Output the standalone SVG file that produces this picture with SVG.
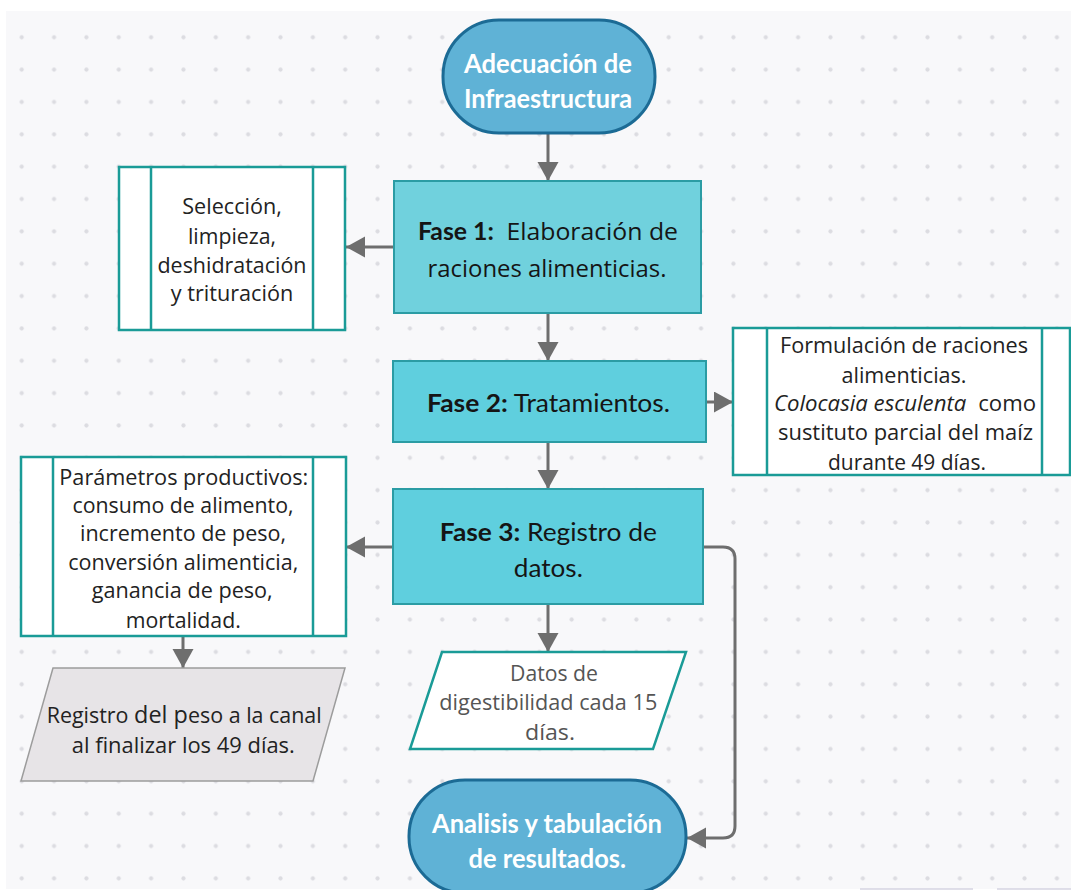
<svg xmlns="http://www.w3.org/2000/svg" width="1071" height="890" viewBox="0 0 1071 890">
<defs>
<pattern id="dots" patternUnits="userSpaceOnUse" x="5.525" y="21.125" width="32.35" height="32.35">
<circle cx="16.175" cy="16.175" r="2.1" fill="#dcdce1"/>
</pattern>
<marker id="ah" markerUnits="userSpaceOnUse" markerWidth="20" markerHeight="22" refX="19" refY="10.5" orient="auto">
<path d="M0,0 L19,10.5 L0,21 z" fill="#6e6e6e"/>
</marker>
<style>
.term{fill:#5fb2d6;stroke:#1c6b95;stroke-width:3}
.tt{font-family:Lato,"Liberation Sans",sans-serif;font-weight:700;font-size:27px;fill:#ffffff;text-anchor:middle}
.phase{stroke:#2b9ca4;stroke-width:2}
.pt{font-family:Lato,"Liberation Sans",sans-serif;font-size:24.5px;fill:#151515;text-anchor:middle}
.b{font-weight:700}
.os{font-family:"Open Sans","Noto Sans",sans-serif}
.box{fill:#ffffff;stroke:#1a9b97;stroke-width:2.5}
.inner{stroke:#1a9b97;stroke-width:2.5;fill:none}
.bt{font-family:"Open Sans","Noto Sans",sans-serif;font-size:21.5px;fill:#222;text-anchor:middle}
.gt{font-family:"Open Sans","Noto Sans",sans-serif;font-size:21.5px;fill:#555;text-anchor:middle}
.conn{fill:none;stroke:#6e6e6e;stroke-width:3;marker-end:url(#ah)}
</style>
</defs>
<rect x="0" y="0" width="1071" height="890" fill="#ffffff"/>
<rect x="6" y="11" width="1065" height="878" fill="#f8f8fa"/>
<rect x="6" y="11" width="1065" height="878" fill="url(#dots)"/>
<line x1="860" y1="889" x2="973" y2="889" stroke="#d6d4e2" stroke-width="1.5"/>
<line x1="997" y1="889" x2="1071" y2="889" stroke="#d6d4e2" stroke-width="1.5"/>

<g id="connectors">
<path class="conn" d="M548,133 V181"/>
<path class="conn" d="M394,247 H346"/>
<path class="conn" d="M548,313 V361"/>
<path class="conn" d="M706,402 H733"/>
<path class="conn" d="M548,442 V489"/>
<path class="conn" d="M393,547 H346"/>
<path class="conn" d="M548,604 V652"/>
<path class="conn" d="M183,636 V668"/>
<path class="conn" d="M703,547 H723 Q735,547 735,559 V826 Q735,838 723,838 H687"/>
</g>

<g id="start">
<rect class="term" x="443" y="20" width="212" height="113" rx="56" ry="56"/>
<text class="tt" x="548" y="72.5" textLength="168" lengthAdjust="spacingAndGlyphs">Adecuación de</text>
<text class="tt" x="548" y="107.5" textLength="168" lengthAdjust="spacingAndGlyphs">Infraestructura</text>
</g>

<g id="fase1">
<rect class="phase" x="394" y="181" width="307" height="132" fill="#70d1dd"/>
<text class="pt" x="548" y="239.5" textLength="260" lengthAdjust="spacingAndGlyphs"><tspan class="b">Fase 1:</tspan><tspan class="os" dx="6"> Elaboración de</tspan></text>
<text class="pt os" x="547" y="276.5" textLength="239" lengthAdjust="spacingAndGlyphs">raciones alimenticias.</text>
</g>

<g id="seleccion">
<rect class="box" x="119" y="167" width="226" height="163"/>
<line class="inner" x1="151" y1="167" x2="151" y2="330"/>
<line class="inner" x1="313" y1="167" x2="313" y2="330"/>
<text class="bt" x="232" y="213.5" textLength="99.5" lengthAdjust="spacingAndGlyphs">Selección,</text>
<text class="bt" x="232" y="243.5" textLength="88" lengthAdjust="spacingAndGlyphs">limpieza,</text>
<text class="bt" x="232" y="272.5" textLength="149" lengthAdjust="spacingAndGlyphs">deshidratación</text>
<text class="bt" x="232" y="300.5" textLength="122.5" lengthAdjust="spacingAndGlyphs">y trituración</text>
</g>

<g id="fase2">
<rect class="phase" x="393" y="361" width="313" height="81" fill="#5fcfde"/>
<text class="pt" x="548.5" y="411.5" textLength="243" lengthAdjust="spacingAndGlyphs"><tspan class="b">Fase 2:</tspan> Tratamientos.</text>
</g>

<g id="formulacion">
<rect class="box" x="733" y="328" width="337" height="147"/>
<line class="inner" x1="767" y1="328" x2="767" y2="475"/>
<line class="inner" x1="1042" y1="328" x2="1042" y2="475"/>
<text class="bt" x="904" y="352.5" textLength="248" lengthAdjust="spacingAndGlyphs">Formulación de raciones</text>
<text class="bt" x="904" y="382.5" textLength="125" lengthAdjust="spacingAndGlyphs">alimenticias.</text>
<text class="bt" x="905" y="410.5" textLength="262" lengthAdjust="spacingAndGlyphs"><tspan font-style="italic">Colocasia esculenta</tspan><tspan dx="6"> como</tspan></text>
<text class="bt" x="905.5" y="439.5" textLength="255" lengthAdjust="spacingAndGlyphs">sustituto parcial del maíz</text>
<text class="bt" x="907" y="469.5" textLength="158" lengthAdjust="spacingAndGlyphs">durante 49 días.</text>
</g>

<g id="fase3">
<rect class="phase" x="393" y="489" width="310" height="115" fill="#5fcfde"/>
<text class="pt" x="548.3" y="540.5" textLength="217" lengthAdjust="spacingAndGlyphs"><tspan class="b">Fase 3:</tspan> Registro de</text>
<text class="pt" x="548.3" y="576.5" textLength="69" lengthAdjust="spacingAndGlyphs">datos.</text>
</g>

<g id="parametros">
<rect class="box" x="21" y="457" width="325" height="179"/>
<line class="inner" x1="53" y1="457" x2="53" y2="636"/>
<line class="inner" x1="313" y1="457" x2="313" y2="636"/>
<text class="bt" x="183.8" y="484.5" textLength="249" lengthAdjust="spacingAndGlyphs">Parámetros productivos:</text>
<text class="bt" x="183" y="512.5" textLength="221" lengthAdjust="spacingAndGlyphs">consumo de alimento,</text>
<text class="bt" x="183" y="540.5" textLength="206" lengthAdjust="spacingAndGlyphs">incremento de peso,</text>
<text class="bt" x="183.3" y="569.5" textLength="230" lengthAdjust="spacingAndGlyphs">conversión alimenticia,</text>
<text class="bt" x="182.2" y="597.5" textLength="181" lengthAdjust="spacingAndGlyphs">ganancia de peso,</text>
<text class="bt" x="183.3" y="627.5" textLength="115" lengthAdjust="spacingAndGlyphs">mortalidad.</text>
</g>

<g id="registro-canal">
<polygon points="53,668 345,668 313,781 21,781" fill="#e7e4e7" stroke="#9c9c9c" stroke-width="1.5"/>
<text class="bt" x="184.2" y="722.5" textLength="275" lengthAdjust="spacingAndGlyphs">Registro <tspan font-size="23.5px">del p</tspan>eso a la canal</text>
<text class="bt" x="183.3" y="752.5" textLength="223" lengthAdjust="spacingAndGlyphs">al finalizar los 49 días.</text>
</g>

<g id="digestibilidad">
<polygon points="442,652 686,652 653,749 410,749" fill="#ffffff" stroke="#1a9b97" stroke-width="2.5"/>
<text class="gt" x="554" y="680.5" textLength="88" lengthAdjust="spacingAndGlyphs">Datos de</text>
<text class="gt" x="548.3" y="709.5" textLength="218" lengthAdjust="spacingAndGlyphs">digestibilidad cada 15</text>
<text class="gt" x="550" y="739.5" textLength="50" lengthAdjust="spacingAndGlyphs">días.</text>
</g>

<g id="end">
<rect class="term" x="409" y="780" width="277" height="113" rx="56" ry="56"/>
<text class="tt" x="547" y="832.5" textLength="230" lengthAdjust="spacingAndGlyphs">Analisis y tabulación</text>
<text class="tt" x="547.3" y="867.5" textLength="157.5" lengthAdjust="spacingAndGlyphs">de resultados.</text>
</g>
</svg>
